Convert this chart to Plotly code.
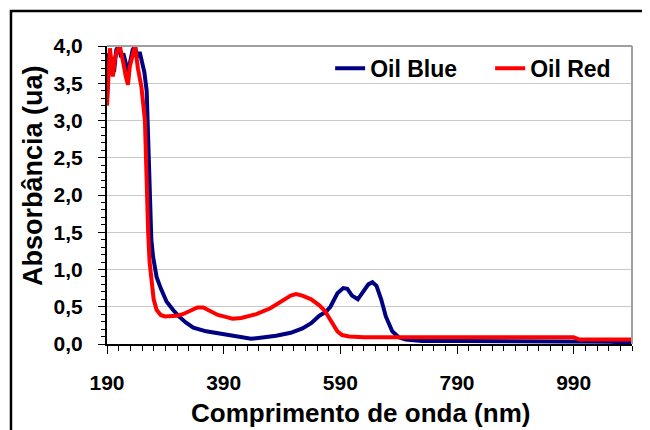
import plotly.graph_objects as go

# Oil Blue spectrum (wavelength nm, absorbance)
blue_nm = [190, 193, 196, 199, 202, 206, 210, 214, 218, 222, 226, 230, 234, 238, 242, 246, 250, 254,
           258, 260.6, 263.5, 266, 269, 275, 282, 286, 292, 303, 312, 325, 338, 360, 389, 410, 437,
           460, 480, 505, 525, 540, 554, 565, 573, 585, 595, 602, 610, 620, 630, 638, 645, 652, 660,
           668, 679, 690, 702, 730, 800, 900, 1000, 1050, 1090]
blue_abs = [3.3, 3.9, 3.7, 3.85, 3.65, 3.95, 4.0, 3.85, 3.9, 3.75, 3.65, 3.8, 3.95, 4.0, 3.85, 3.92, 3.8, 3.65,
            3.4, 2.65, 1.75, 1.4, 1.17, 0.9, 0.75, 0.68, 0.57, 0.46, 0.38, 0.29, 0.22, 0.17, 0.13, 0.1, 0.07,
            0.09, 0.11, 0.15, 0.21, 0.28, 0.38, 0.43, 0.5, 0.68, 0.75, 0.74, 0.65, 0.6, 0.7, 0.8, 0.83, 0.78, 0.6,
            0.37, 0.17, 0.09, 0.06, 0.04, 0.04, 0.04, 0.04, 0.03, 0.02]

# Oil Red spectrum
red_nm = [190, 193, 195, 198, 200, 204, 208, 212, 215, 218, 222, 226, 229, 233, 238, 243, 249, 255,
          258, 260.6, 263, 266, 270, 275, 282, 289, 300, 309, 320, 335, 345, 355, 365, 380, 395, 405,
          420, 446, 470, 490, 505, 514, 525, 540, 554, 563, 571, 578, 585, 593, 605, 630, 700, 800,
          900, 990, 1000, 1090]
red_abs = [3.2, 3.6, 3.97, 3.75, 3.59, 3.85, 3.95, 4.0, 3.9, 3.77, 3.6, 3.48, 3.72, 3.85, 4.0, 3.7, 3.45, 3.0,
           2.07, 1.49, 1.1, 0.86, 0.6, 0.46, 0.39, 0.37, 0.37, 0.38, 0.4, 0.46, 0.49, 0.49, 0.45, 0.39, 0.36, 0.34,
           0.35, 0.4, 0.48, 0.58, 0.65, 0.67, 0.65, 0.6, 0.52, 0.45, 0.35, 0.25, 0.17, 0.12, 0.1, 0.09, 0.09, 0.09,
           0.09, 0.09, 0.06, 0.06]

x_ticks = [190, 390, 590, 790, 990]
y_ticks = [0, 0.5, 1.0, 1.5, 2.0, 2.5, 3.0, 3.5, 4.0]
y_labels = ["0,0", "0,5", "1,0", "1,5", "2,0", "2,5", "3,0", "3,5", "4,0"]

FONT = "Liberation Sans"

fig = go.Figure()
fig.add_trace(go.Scatter(x=blue_nm, y=blue_abs, mode="lines", name="Oil Blue",
                         line=dict(color="#000080", width=4)))
fig.add_trace(go.Scatter(x=red_nm, y=red_abs, mode="lines", name="Oil Red",
                         line=dict(color="#ff0000", width=4)))

fig.update_layout(
    width=650, height=430,
    margin=dict(l=99, r=26, t=38, b=94, autoexpand=False),
    paper_bgcolor="white", plot_bgcolor="white",
    font=dict(family=FONT, color="black"),
    showlegend=True,
    legend=dict(orientation="h", x=0.425, xanchor="left", y=0.925, yanchor="middle",
                font=dict(family=FONT, size=23, weight="bold"),
                bgcolor="rgba(0,0,0,0)", entrywidth=115, itemwidth=30),
    xaxis=dict(range=[190, 1090], tickvals=x_ticks, ticktext=[str(v) for v in x_ticks],
               showgrid=False, zeroline=False, showline=True, linecolor="black", linewidth=2,
               ticks="outside", ticklen=8, tickwidth=1, tickcolor="black",
               minor=dict(dtick=20, tick0=190, ticks="outside", ticklen=5, tickcolor="black", showgrid=False),
               tickfont=dict(family=FONT, size=21, weight="bold"), ticklabelstandoff=11),
    yaxis=dict(range=[0, 4.0], tickvals=y_ticks, ticktext=y_labels,
               showgrid=True, gridcolor="#c8c8c8", gridwidth=1, zeroline=False,
               showline=True, linecolor="black", linewidth=2,
               ticks="outside", ticklen=7, tickwidth=1, tickcolor="black",
               minor=dict(dtick=0.1, ticks="outside", ticklen=4, tickcolor="black", showgrid=False),
               tickfont=dict(family=FONT, size=21, weight="bold"), ticklabelstandoff=11),
    shapes=[
        # grey plot-area border top and right
        dict(type="line", xref="paper", yref="paper", x0=0, x1=1, y0=1, y1=1,
             line=dict(color="#a0a0a0", width=2)),
        dict(type="line", xref="paper", yref="paper", x0=1, x1=1, y0=0, y1=1,
             line=dict(color="#a0a0a0", width=2)),
        # outer frame
        dict(type="rect", xref="paper", yref="paper", x0=-0.1829, x1=1.1, y0=-0.4, y1=1.1174,
             line=dict(color="black", width=2.5), layer="below"),
    ],
    annotations=[
        dict(text="Comprimento de onda (nm)", xref="paper", yref="paper", x=0.482, y=-0.2315,
             xanchor="center", yanchor="middle", showarrow=False,
             font=dict(family=FONT, size=26, weight="bold")),
        dict(text="Absorbância (ua)", xref="paper", yref="paper", x=-0.141, y=0.567,
             xanchor="center", yanchor="middle", showarrow=False, textangle=-90,
             font=dict(family=FONT, size=27, weight="bold")),
    ],
)

fig.write_html("out.html")
